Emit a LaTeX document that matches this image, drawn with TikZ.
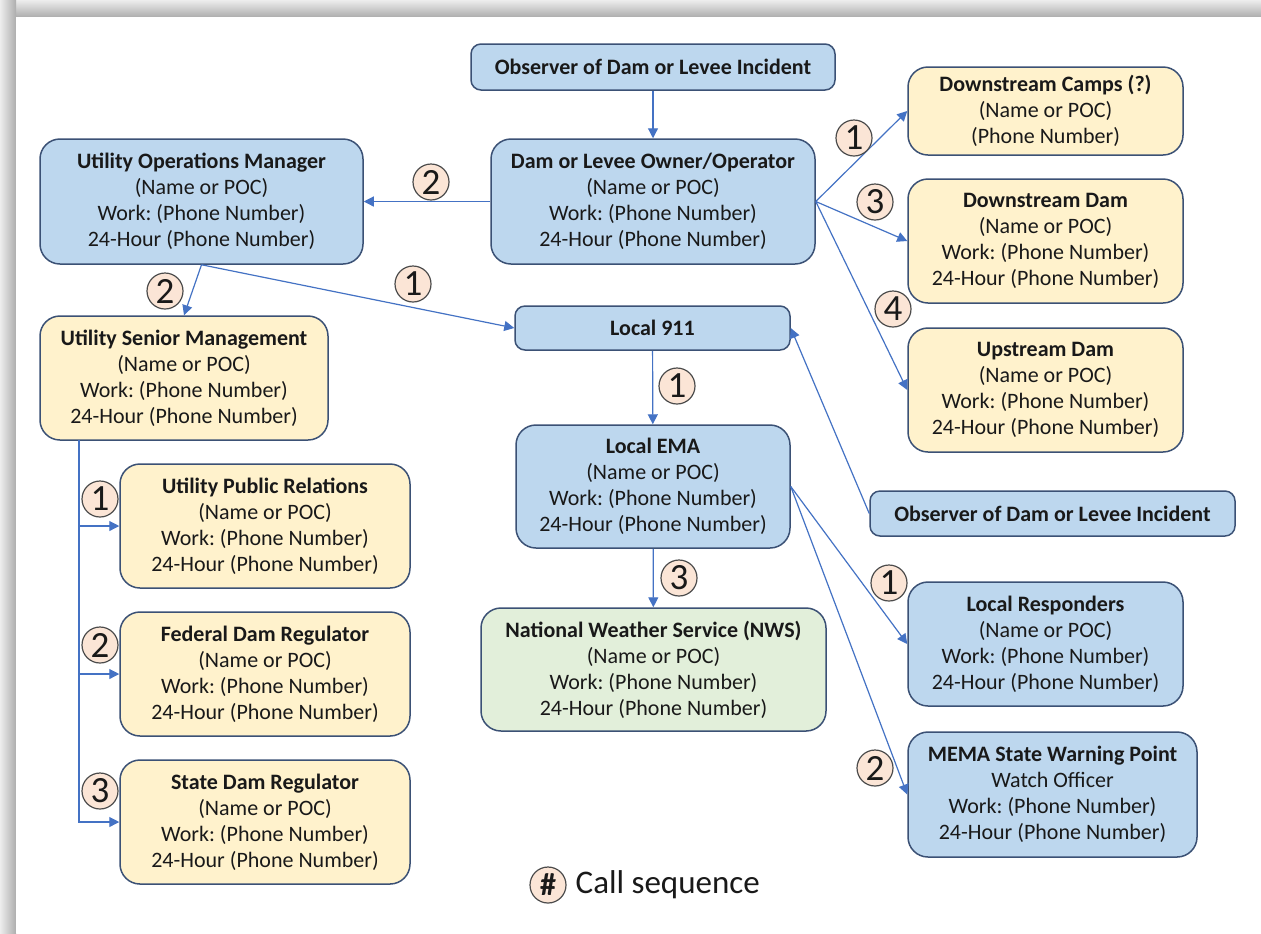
\documentclass[tikz,border=0pt]{standalone}
\usepackage{fontspec}
\setmainfont{Carlito}
\frenchspacing
\usetikzlibrary{arrows.meta,positioning}
\definecolor{boxblue}{HTML}{BDD7EE}
\definecolor{boxyellow}{HTML}{FFF2CC}
\definecolor{boxgreen}{HTML}{E2EFDA}
\definecolor{boxedge}{HTML}{3B5175}
\definecolor{flowblue}{HTML}{4472C4}
\definecolor{seqfill}{HTML}{FBE5D6}
\begin{document}
\begin{tikzpicture}[x=0.5pt,y=-0.5pt,
		card/.style={draw=boxedge, line width=0.75pt, rounded corners=10pt, align=center, inner sep=0pt, text=black!90, font=\fontsize{11}{13}\selectfont},
		bluecard/.style={card, fill=boxblue},
		yellowcard/.style={card, fill=boxyellow},
		greencard/.style={card, fill=boxgreen},
		flow/.style={draw=flowblue, line width=0.6pt, -{Triangle[length=5pt,width=5pt]}},
		seq/.style={circle, draw=black!70, fill=seqfill, line width=0.6pt, minimum size=18pt, inner sep=0pt, text=black!90, font=\fontsize{18.5}{18.5}\selectfont}]
	\useasboundingbox (0,0) rectangle (1261,933);
	% window shadow
	\shade[top color=black!7, bottom color=black!32] (0,0) rectangle (1261,17);
	\shade[left color=black!7, right color=black!32] (0,0) rectangle (16,933);
	\fill[white] (16,17) rectangle (1261,933);

	% top row
	\node[bluecard, rounded corners=5pt, minimum width=182pt, minimum height=23pt] (obs) at (653,67) {\textbf{Observer of Dam or Levee Incident}};
	\node[bluecard, minimum width=162pt, minimum height=62.5pt] (owner) at (653,201.5) {\textbf{Dam or Levee Owner/Operator}\\(Name or POC)\\Work: (Phone Number)\\24-Hour (Phone Number)};
	\node[bluecard, minimum width=161.5pt, minimum height=62.5pt] (opsmgr) at (201.5,201.5) {\textbf{Utility Operations Manager}\\(Name or POC)\\Work: (Phone Number)\\24-Hour (Phone Number)};
	\node[yellowcard, minimum width=137.5pt, minimum height=44pt] (camps) at (1045.5,111) {\textbf{Downstream Camps (?)}\\(Name or POC)\\(Phone Number)};
	\node[yellowcard, minimum width=137.5pt, minimum height=62pt] (dsdam) at (1045.5,241) {\textbf{Downstream Dam}\\(Name or POC)\\Work: (Phone Number)\\24-Hour (Phone Number)};
	\node[yellowcard, minimum width=137.5pt, minimum height=62pt] (usdam) at (1045.5,390) {\textbf{Upstream Dam}\\(Name or POC)\\Work: (Phone Number)\\24-Hour (Phone Number)};

	% middle
	\node[yellowcard, minimum width=144pt, minimum height=62pt] (senior) at (184,378) {\textbf{Utility Senior Management}\\(Name or POC)\\Work: (Phone Number)\\24-Hour (Phone Number)};
	\node[bluecard, rounded corners=5pt, minimum width=137.5pt, minimum height=22pt] (local911) at (652.5,328) {\textbf{Local 911}};
	\node[bluecard, minimum width=137pt, minimum height=61.5pt] (ema) at (653,486.5) {\textbf{Local EMA}\\(Name or POC)\\Work: (Phone Number)\\24-Hour (Phone Number)};
	\node[bluecard, rounded corners=5pt, minimum width=182.5pt, minimum height=22.5pt] (obs2) at (1052.5,513.5) {\textbf{Observer of Dam or Levee Incident}};

	% bottom
	\node[yellowcard, minimum width=145pt, minimum height=62pt] (pubrel) at (265,526) {\textbf{Utility Public Relations}\\(Name or POC)\\Work: (Phone Number)\\24-Hour (Phone Number)};
	\node[yellowcard, minimum width=145pt, minimum height=62pt] (fedreg) at (265,674) {\textbf{Federal Dam Regulator}\\(Name or POC)\\Work: (Phone Number)\\24-Hour (Phone Number)};
	\node[yellowcard, minimum width=145pt, minimum height=62pt] (statereg) at (265,822) {\textbf{State Dam Regulator}\\(Name or POC)\\Work: (Phone Number)\\24-Hour (Phone Number)};
	\node[greencard, minimum width=172.5pt, minimum height=61.5pt] (nws) at (653.5,669.5) {\textbf{National Weather Service (NWS)}\\(Name or POC)\\Work: (Phone Number)\\24-Hour (Phone Number)};
	\node[bluecard, minimum width=137.5pt, minimum height=62pt] (resp) at (1045.5,644) {\textbf{Local Responders}\\(Name or POC)\\Work: (Phone Number)\\24-Hour (Phone Number)};
	\node[bluecard, minimum width=144.5pt, minimum height=62.5pt] (mema) at (1052.5,794.5) {\textbf{MEMA State Warning Point}\\Watch Officer\\Work: (Phone Number)\\24-Hour (Phone Number)};

	% calls
	\draw[flow] (obs) -- (owner);
	\draw[flow] (owner) -- (opsmgr);
	\draw[flow] (owner.east) -- (camps.west);
	\draw[flow] (owner.east) -- (dsdam.west);
	\draw[flow] (owner.east) -- (usdam.west);
	\draw[flow] (opsmgr.south) -- (senior.north);
	\draw[flow] (opsmgr.south) -- (local911.west);
	\draw[flow] (local911) -- (ema);
	\draw[flow] (ema) -- (nws);
	\draw[flow] (ema.east) -- (resp.west);
	\draw[flow] (ema.east) -- (mema.west);
	\draw[flow] (obs2.west) -- (local911.east);
	\coordinate (trunk) at (79,440);
	\draw[flow] (trunk) |- (pubrel.west);
	\draw[flow] (trunk) |- (fedreg.west);
	\draw[flow] (trunk) |- (statereg.west);

	% call sequence numbers
	\node[seq] (s1) at (431,182) {2};
	\node[seq] (s2) at (854,138) {1};
	\node[seq] (s3) at (875,202) {3};
	\node[seq] (s4) at (893,309) {4};
	\node[seq] (s5) at (165,291) {2};
	\node[seq] (s6) at (413,284) {1};
	\node[seq] (s7) at (677,386) {1};
	\node[seq] (s8) at (679,578) {3};
	\node[seq] (s9) at (889,583) {1};
	\node[seq] (s10) at (875,768) {2};
	\node[seq] (s11) at (100,499) {1};
	\node[seq] (s12) at (100,645) {2};
	\node[seq] (s13) at (100,791) {3};

	% key
	\node[seq, font=\fontsize{16}{16}\selectfont\bfseries] (key) at (548,885) {\#};
	\node[right=1pt of key, text=black!90, font=\fontsize{16.5}{18}\selectfont] (keytext) {Call sequence};
\end{tikzpicture}
\end{document}
